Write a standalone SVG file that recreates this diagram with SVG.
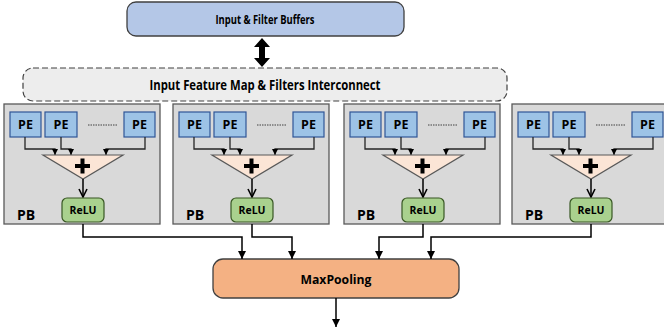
<svg xmlns="http://www.w3.org/2000/svg" width="664" height="329" viewBox="0 0 664 329">
<defs>
<style>
.t{font-family:"Open Sans","Liberation Sans",sans-serif;font-weight:700;fill:#000;text-anchor:middle}
.pb{fill:#d9d9d9;stroke:#595959;stroke-width:1.3}
.pe{fill:#9dc3e6;stroke:#2f5597;stroke-width:1.2}
.ln{fill:none;stroke:#262626;stroke-width:1.3}
.lk{fill:none;stroke:#000;stroke-width:1.5}
</style>
<marker id="ah" viewBox="0 0 10 10" refX="10" refY="5" markerWidth="6" markerHeight="6" markerUnits="userSpaceOnUse" orient="auto">
<path d="M0,0 L10,5 L0,10 z" fill="#000"/>
</marker>
<marker id="ah2" viewBox="0 0 10 10" refX="10" refY="5" markerWidth="8" markerHeight="8" markerUnits="userSpaceOnUse" orient="auto">
<path d="M0,0 L10,5 L0,10 z" fill="#000"/>
</marker>
<marker id="av" viewBox="0 0 10 10" refX="9" refY="5" markerWidth="10" markerHeight="10" markerUnits="userSpaceOnUse" orient="auto">
<path d="M1,1 L9,5 L1,9" fill="none" stroke="#000" stroke-width="1.6"/>
</marker>
<g id="pbTpl">
<rect class="pb" x="0" y="104" width="156" height="120"/>
<rect class="pe" x="6" y="112" width="31" height="25"/>
<rect class="pe" x="41" y="112" width="32" height="25"/>
<rect class="pe" x="120" y="112" width="31" height="25"/>
<text class="t" x="21.5" y="129" font-size="12.5">PE</text>
<text class="t" x="57" y="129" font-size="12.5">PE</text>
<text class="t" x="135.5" y="129" font-size="12.5">PE</text>
<line x1="84" y1="125" x2="113" y2="125" stroke="#404040" stroke-width="1" stroke-dasharray="1.5,1"/>
<path class="ln" d="M21,137 V149 H51 V155" marker-end="url(#ah)"/>
<path class="ln" d="M57,137 V149 H67 V155" marker-end="url(#ah)"/>
<path class="ln" d="M141,137 V149 H102 V155" marker-end="url(#ah)"/>
<path d="M39,155 H119 L79,179 Z" fill="#fbe5d6" stroke="#595959" stroke-width="1.2"/>
<path d="M78.5,158.5 V173.5 M71,166 H86" stroke="#000" stroke-width="4"/>
<line x1="79" y1="179" x2="79" y2="197" class="lk" marker-end="url(#av)"/>
<rect x="58" y="198" width="42" height="24" rx="5" fill="#a9d18e" stroke="#385723" stroke-width="1.2"/>
<text class="t" x="79" y="214" font-size="11" textLength="27" lengthAdjust="spacingAndGlyphs">ReLU</text>
<text class="t" x="13" y="219.5" font-size="14" style="text-anchor:start">PB</text>
</g>
</defs>
<g id="buffers">
<rect x="127" y="2" width="277" height="34" rx="9" fill="#b4c7e7" stroke="#404040" stroke-width="1.3"/>
<text class="t" x="265" y="23.5" font-size="12" textLength="99" lengthAdjust="spacingAndGlyphs">Input &amp; Filter Buffers</text>
</g>
<g id="interconnect">
<rect x="23" y="68" width="484" height="33" rx="10" fill="#ededed" stroke="#404040" stroke-width="1.2" stroke-dasharray="6,3"/>
<text class="t" x="265" y="90" font-size="15" font-weight="600" textLength="231" lengthAdjust="spacingAndGlyphs">Input Feature Map &amp; Filters Interconnect</text>
</g>
<g id="pb1" transform="translate(4,0)"><use href="#pbTpl"/></g>
<g id="pb2" transform="translate(173,0)"><use href="#pbTpl"/></g>
<g id="pb3" transform="translate(344,0)"><use href="#pbTpl"/></g>
<g id="pb4" transform="translate(512,0)"><use href="#pbTpl"/></g>
<g id="maxpool">
<rect x="213" y="259" width="246" height="39" rx="10" fill="#f4b183" stroke="#404040" stroke-width="1.3"/>
<text class="t" x="336" y="283.5" font-size="13" textLength="71" lengthAdjust="spacingAndGlyphs">MaxPooling</text>
</g>
<g id="connectors">
<path d="M262,38 L270,47 L265,47 L265,58 L270,58 L262,67 L254,58 L259,58 L259,47 L254,47 Z" fill="#000"/>
<path class="lk" d="M83,224 V237 H242 V259" marker-end="url(#ah2)"/>
<path class="lk" d="M252,224 V237 H292 V259" marker-end="url(#ah2)"/>
<path class="lk" d="M423,224 V237 H379 V259" marker-end="url(#ah2)"/>
<path class="lk" d="M591,224 V237 H431 V259" marker-end="url(#ah2)"/>
<path class="lk" d="M336,298 V327" marker-end="url(#ah2)"/>
</g>
</svg>
